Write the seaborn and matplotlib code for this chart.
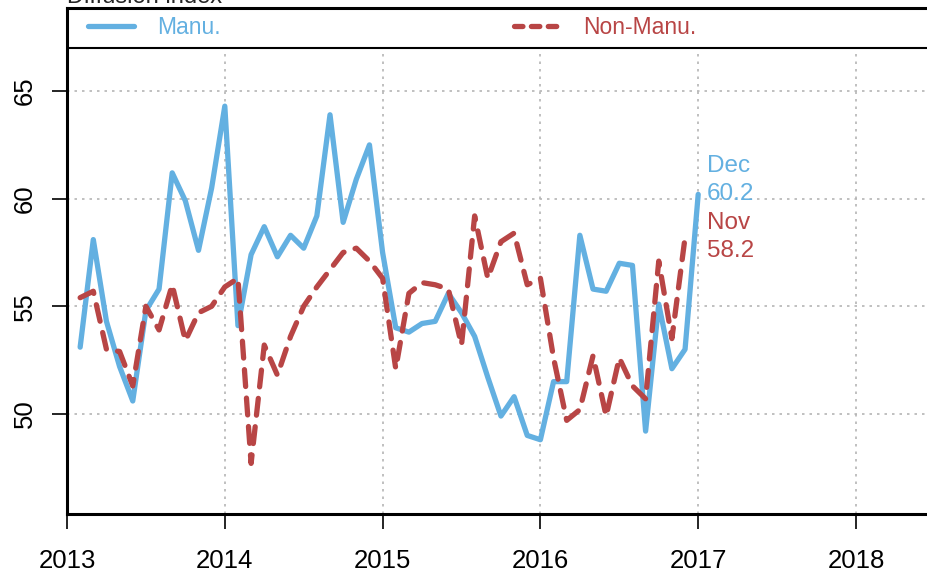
import numpy as np
import pandas as pd
import matplotlib
matplotlib.use("Agg")
import matplotlib.pyplot as plt
import seaborn as sns

# ---- data ----
manu = [53.1, 58.1, 54.3, 52.2, 50.6, 54.8, 55.8, 61.2, 59.9, 57.6, 60.5, 64.3,
        54.1, 57.4, 58.7, 57.3, 58.3, 57.7, 59.2, 63.9, 58.9, 60.9, 62.5, 57.5,
        54.0, 53.8, 54.2, 54.3, 55.6, 54.7, 53.6, 51.7, 49.9, 50.8, 49.0, 48.8,
        51.5, 51.5, 58.3, 55.8, 55.7, 57.0, 56.9, 49.2, 55.1, 52.1, 53.0, 60.2]
non_manu = [55.4, 55.7, 53.0, 52.9, 51.3, 55.0, 53.9, 56.0, 53.4, 54.7, 55.0, 55.9,
            56.3, 47.7, 53.2, 51.8, 53.6, 55.0, 55.9, 56.7, 57.5, 57.7, 57.1, 56.3,
            52.1, 55.6, 56.1, 56.0, 55.8, 53.2, 59.2, 56.3, 58.0, 58.4, 56.0, 56.3,
            52.6, 49.7, 50.2, 52.7, 49.9, 52.6, 51.3, 50.7, 57.1, 53.5, 58.2]
start_year = 2013
year_ticks = [2013, 2014, 2015, 2016, 2017, 2018]
y_ticks = [50, 55, 60, 65]
series_names = ["Manu.", "Non-Manu."]
last_labels = ["Dec", "Nov"]
title = "Diffusion index"

blue = "#63B0E1"
red = "#B84545"

t_manu = start_year + np.arange(1, len(manu) + 1) / 12.0
t_non = start_year + np.arange(1, len(non_manu) + 1) / 12.0
df = pd.concat([
    pd.DataFrame({"t": t_manu, "v": manu, "s": series_names[0]}),
    pd.DataFrame({"t": t_non, "v": non_manu, "s": series_names[1]}),
])

sns.set_theme(style="white")
plt.rcParams["font.family"] = ["Liberation Sans", "DejaVu Sans"]

W, H = 928, 574
fig = plt.figure(figsize=(W / 100, H / 100), dpi=100)
left, bottom, top = 67, 514, 8
ax = fig.add_axes([left / W, (H - bottom) / H, (W - left) / W, (bottom - top) / H])

xmin = 2013
xmax = 2013 + (W - left) / 157.8
ymin = 50 - (bottom - 414) / 21.5
ymax = 65 + (91 - top) / 21.5
strip_y = 65 + (91 - 48) / 21.5

# grid (below legend strip)
ax.hlines(y_ticks, xmin, xmax, colors="#b5b5b5", linestyles=(0, (1.5, 3)), lw=1.2, zorder=0)
ax.vlines(year_ticks, ymin, strip_y, colors="#b5b5b5", linestyles=(0, (1.5, 3)), lw=1.2, zorder=0)

sns.lineplot(data=df, x="t", y="v", hue="s", style="s",
             palette={series_names[0]: blue, series_names[1]: red},
             dashes={series_names[0]: "", series_names[1]: (3.2, 2.2)},
             lw=3.8, ax=ax, legend=False, sort=False)
for ln in ax.lines:
    ln.set_dash_capstyle("round")
    ln.set_solid_capstyle("round")
    ln.set_solid_joinstyle("round")
    ln.set_dash_joinstyle("round")

ax.set_xlim(xmin, xmax)
ax.set_ylim(ymin, ymax)
ax.axhline(strip_y, color="black", lw=1.5)

# legend drawn in strip
from matplotlib.lines import Line2D
handles = [Line2D([], [], color=blue, lw=3.8, solid_capstyle="round"),
           Line2D([], [], color=red, lw=3.8, dashes=(1.6, 1.6), dash_capstyle="round")]
leg = ax.legend(handles, series_names, ncol=2, frameon=False, loc="upper left",
                bbox_to_anchor=(0.006, 1.015), fontsize=16.5, handlelength=2.0,
                columnspacing=12.8, handletextpad=1.0, borderaxespad=0.3)
for txt, c in zip(leg.get_texts(), [blue, red]):
    txt.set_color(c)

# last-value labels
ax.text(t_manu[-1] + 0.055, manu[-1] + 0.68, f"{last_labels[0]}\n{manu[-1]:.1f}",
        color=blue, fontsize=17.5, va="center", ha="left", linespacing=1.35)
ax.text(t_manu[-1] + 0.055, non_manu[-1], f"{last_labels[1]}\n{non_manu[-1]:.1f}",
        color=red, fontsize=17.5, va="center", ha="left", linespacing=1.35)

ax.set_xticks(year_ticks)
ax.set_xticklabels([str(y) for y in year_ticks])
ax.set_yticks(y_ticks)
ax.set_yticklabels([str(y) for y in y_ticks], rotation=90, va="center")
ax.tick_params(axis="both", direction="out", length=11, width=1.2, colors="black",
               labelsize=18.5, bottom=True, left=True)
ax.tick_params(axis="x", pad=14)
ax.tick_params(axis="y", pad=11)
ax.set_xlabel("")
ax.set_ylabel("")
for side in ["left", "bottom", "top"]:
    ax.spines[side].set_visible(True)
    ax.spines[side].set_color("black")
    ax.spines[side].set_linewidth(2.2)
ax.spines["right"].set_visible(False)

fig.text(left / W, 1 - 3 / H, title, fontsize=17, ha="left", va="baseline")

fig.savefig("out.png", dpi=100)
